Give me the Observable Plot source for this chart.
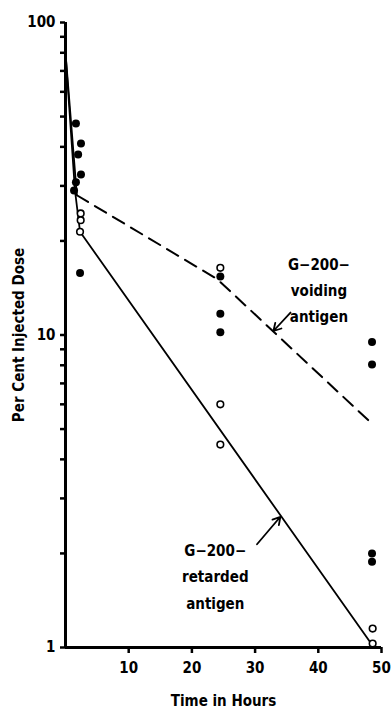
<!DOCTYPE html>
<html><head><meta charset="utf-8">
<script src="https://cdn.jsdelivr.net/npm/d3@7"></script>
<script src="https://cdn.jsdelivr.net/npm/@observablehq/plot@0.6"></script>
<style>body{margin:0;background:#fff}</style>
</head><body><div id="chart"></div>
<script>
const FONT = "'DejaVu Sans Condensed', 'Liberation Sans Narrow', sans-serif";

// Filled circles
const filledHours = [1.65, 2.45, 2.0, 2.45, 1.65, 1.35, 2.3, 24.5, 24.5, 24.5, 48.5, 48.5, 48.5, 48.5];
const filledDose  = [47.5, 41, 37.8, 32.6, 30.8, 29, 15.8, 15.4, 11.7, 10.2, 9.5, 8.05, 2.0, 1.88];
// Open circles
const openHours = [2.4, 2.4, 2.3, 24.5, 24.5, 24.5, 48.6, 48.6];
const openDose  = [24.5, 23.3, 21.4, 16.4, 6.0, 4.46, 1.15, 1.03];
// Curves
const retardedHours = [0, 1.5, 2.3, 48.5];
const retardedDose  = [80, 29, 21.4, 1.02];
const voidingEarlyHours = [0, 1.8];
const voidingEarlyDose  = [80, 28];
const voidingHours = [1.8, 24, 48.5];
const voidingDose  = [28, 15.1, 5.2];
// Axes
const yTicks = [1,2,3,4,5,6,7,8,9,10,20,30,40,50,60,70,80,90,100];
const yLabels = [1, 10, 100];
const xTicks = [10, 20, 30, 40, 50];
// Annotations
const noteText  = ["G\u2212200\u2212\nvoiding\nantigen", "G\u2212200\u2212\nretarded\nantigen"];
const noteHours = [40.1, 23.7];
const noteDose  = [14.2, 1.72];
const arrowFromHours = [35.6, 30.3];
const arrowFromDose  = [11.8, 2.14];
const arrowToHours   = [32.9, 34.0];
const arrowToDose    = [10.3, 2.62];

const pts = (xs, ys) => xs.map((x, i) => ({x, y: ys[i]}));
const notes = noteText.map((t, i) => ({t, x: noteHours[i], y: noteDose[i]}));
const arrows = arrowFromHours.map((x1, i) => ({x1, y1: arrowFromDose[i], x2: arrowToHours[i], y2: arrowToDose[i]}));

const chart = Plot.plot({
  width: 392, height: 712,
  marginLeft: 65, marginRight: 11, marginTop: 22, marginBottom: 65,
  style: {fontFamily: FONT, fontSize: "15px", fontWeight: "bold", color: "#000", background: "#fff", overflow: "visible"},
  x: {domain: [0, 50]},
  y: {type: "log", domain: [1, 100]},
  marks: [
    Plot.axisY({ticks: yTicks, tickSize: 5, tickPadding: 5, strokeWidth: 2.5, fontSize: 15,
      tickFormat: d => yLabels.includes(d) ? String(d) : "",
      label: "Per Cent Injected Dose", labelAnchor: "center", labelArrow: "none", labelOffset: 52}),
    Plot.axisX({ticks: xTicks, tickSize: 6, tickPadding: 9, strokeWidth: 2.5, fontSize: 15,
      label: "Time in Hours", labelAnchor: "center", labelArrow: "none", labelOffset: 58}),
    Plot.ruleX([0], {strokeWidth: 3}),
    Plot.ruleY([1], {strokeWidth: 3}),
    Plot.line(pts(retardedHours, retardedDose), {x: "x", y: "y", stroke: "#000", strokeWidth: 1.8}),
    Plot.line(pts(voidingEarlyHours, voidingEarlyDose), {x: "x", y: "y", stroke: "#000", strokeWidth: 1.8}),
    Plot.line(pts(voidingHours, voidingDose), {x: "x", y: "y", stroke: "#000", strokeWidth: 2, strokeDasharray: "13,8"}),
    Plot.dot(pts(filledHours, filledDose), {x: "x", y: "y", r: 4, fill: "#000", stroke: "none"}),
    Plot.dot(pts(openHours, openDose), {x: "x", y: "y", r: 3.3, fill: "#fff", stroke: "#000", strokeWidth: 1.6}),
    Plot.text(notes, {x: "x", y: "y", text: "t", fontSize: 15, fontWeight: "bold", lineHeight: 1.75, textAnchor: "middle", fill: "#000"}),
    Plot.arrow(arrows, {x1: "x1", y1: "y1", x2: "x2", y2: "y2", stroke: "#000", strokeWidth: 1.8, headLength: 7})
  ]
});
document.getElementById("chart").appendChild(chart);
</script>
</body></html>
